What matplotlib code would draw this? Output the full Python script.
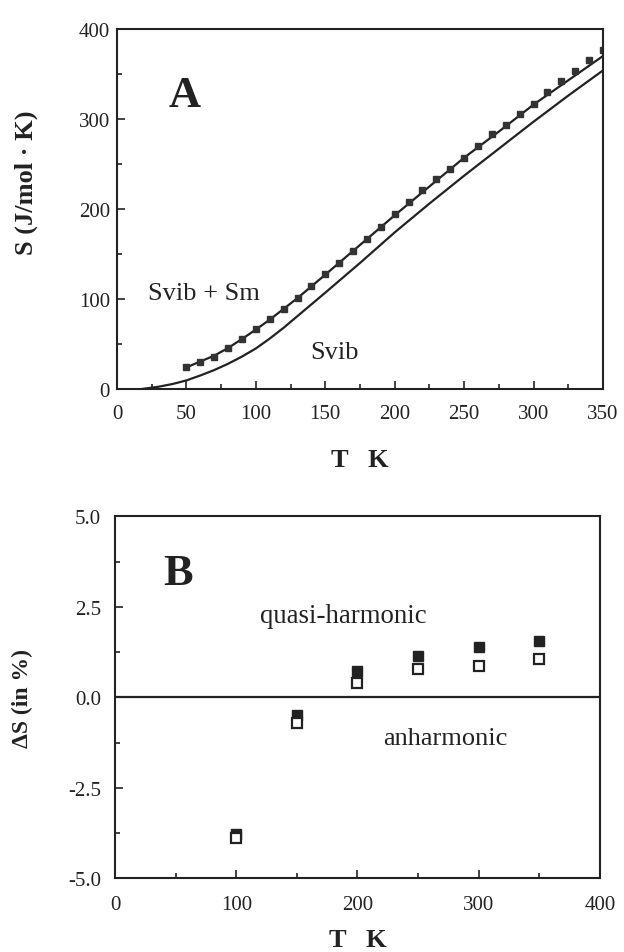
import numpy as np
import matplotlib
matplotlib.use('Agg')
import matplotlib.pyplot as plt
from matplotlib.ticker import MultipleLocator, FormatStrFormatter

plt.rcParams['font.family'] = ['Liberation Serif', 'DejaVu Serif']
plt.rcParams['axes.unicode_minus'] = False

# panel A: entropy vs temperature
T_points = [50, 60, 70, 80, 90, 100, 110, 120, 130, 140, 150, 160, 170, 180, 190,
            200, 210, 220, 230, 240, 250, 260, 270, 280, 290, 300, 310, 320, 330, 340, 350]
S_points = [24, 30.5, 36, 45, 55, 66.5, 77.5, 89, 101, 114, 127.5, 140.5, 153.5, 166.5, 179.5,
            194, 208, 221, 233, 244.5, 257, 270, 283, 293, 306, 317, 330.5, 342, 353, 365.5, 377]
T_svib_sm = [50, 60, 70, 80, 90, 100, 110, 120, 130, 140, 150, 175, 200, 225, 250, 275, 300, 325, 350]
S_svib_sm = [24, 30.5, 37, 45.5, 55.5, 66, 77, 89, 101, 114, 127, 160, 193, 225, 257, 286, 316, 343, 370]
T_svib = [18, 30, 40, 50, 60, 70, 80, 90, 100, 110, 120, 130, 140, 150, 175, 200, 225, 250, 275, 300, 325, 350]
S_svib = [0, 2.5, 5.5, 9.5, 15, 21, 28, 36, 45, 56, 68, 81, 94, 107, 140, 174, 206, 237, 267, 297, 326, 354]

# panel B: entropy difference in percent
T_diff = [100, 150, 200, 250, 300, 350]
dS_quasi = [-3.78, -0.50, 0.74, 1.15, 1.38, 1.55]
dS_anh = [-3.88, -0.71, 0.40, 0.78, 0.87, 1.06]

ink = '#222222'

fig = plt.figure(figsize=(6.24, 9.53), dpi=100)
ax1 = fig.add_axes([0.1875, 0.5908, 0.7788, 0.3777])
ax2 = fig.add_axes([0.1843, 0.0773, 0.7772, 0.3799])

ax1.plot(T_svib_sm, S_svib_sm, color=ink, lw=1.6)
ax1.plot(T_svib, S_svib, color=ink, lw=1.6)
ax1.plot(T_points, S_points, 's', color='#333333', ms=4, ls='none')
ax1.set_xlim(0, 350)
ax1.set_ylim(0, 400)
ax1.xaxis.set_major_locator(MultipleLocator(50))
ax1.xaxis.set_minor_locator(MultipleLocator(25))
ax1.yaxis.set_major_locator(MultipleLocator(100))
ax1.yaxis.set_minor_locator(MultipleLocator(50))
ax1.text(37, 314, 'A', fontsize=32, fontweight='bold', color=ink)
ax1.text(22, 100, 'Svib + Sm', fontsize=19, color=ink)
ax1.text(139, 34, 'Svib', fontsize=19, color=ink)
ax1.set_xlabel('T   K', fontsize=19, fontweight='bold', color=ink)
ax1.set_ylabel('S (J/mol · K)', fontsize=19, fontweight='bold', color=ink)
ax1.xaxis.set_label_coords(0.5, -0.165)
ax1.yaxis.set_label_coords(-0.162, 0.575)
ax1.tick_params(axis='x', pad=11)
ax1.tick_params(axis='y', pad=5)

ax2.axhline(0, color=ink, lw=1.6)
ax2.plot(T_diff, dS_quasi, 's', color=ink, ms=7.5, ls='none')
ax2.plot(T_diff, dS_anh, 's', mfc='white', mec=ink, mew=1.6, ms=6.5, ls='none')
ax2.set_xlim(0, 400)
ax2.set_ylim(-5, 5)
ax2.xaxis.set_major_locator(MultipleLocator(100))
ax2.xaxis.set_minor_locator(MultipleLocator(50))
ax2.yaxis.set_major_locator(MultipleLocator(2.5))
ax2.yaxis.set_minor_locator(MultipleLocator(1.25))
ax2.yaxis.set_major_formatter(FormatStrFormatter('%.1f'))
ax2.text(39.6, 3.13, 'B', fontsize=32, fontweight='bold', color=ink)
ax2.text(120, 2.08, 'quasi-harmonic', fontsize=19.3, color=ink)
ax2.text(221, -1.29, 'anharmonic', fontsize=19, color=ink)
ax2.set_xlabel('T   K', fontsize=19, fontweight='bold', color=ink)
ax2.set_ylabel('ΔS (in %)', fontsize=17, fontweight='bold', color=ink)
ax2.xaxis.set_label_coords(0.5, -0.138)
ax2.yaxis.set_label_coords(-0.17, 0.5)
ax2.tick_params(axis='x', pad=12)
ax2.tick_params(axis='y', pad=10)

for ax in (ax1, ax2):
    for sp in ax.spines.values():
        sp.set_linewidth(1.5)
        sp.set_color(ink)
    ax.tick_params(which='both', direction='in', top=False, right=False,
                   labelsize=15, colors=ink, width=1.2)
    ax.tick_params(which='major', length=6)
    ax.tick_params(which='minor', length=3.5)

fig.savefig('out.png', dpi=100)
